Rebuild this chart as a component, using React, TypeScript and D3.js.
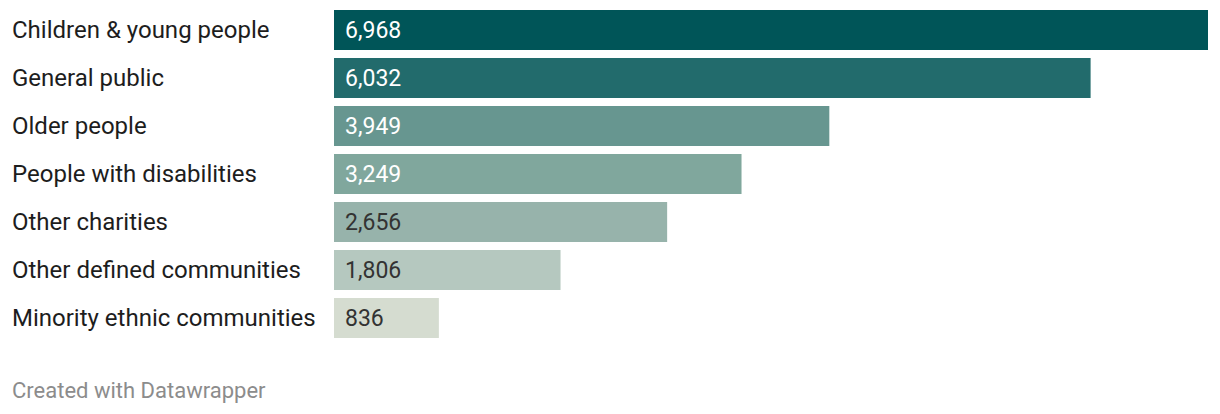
import React from "react";
import * as d3 from "d3";

const categories = [
  "Children & young people",
  "General public",
  "Older people",
  "People with disabilities",
  "Other charities",
  "Other defined communities",
  "Minority ethnic communities",
];
const values = [6968, 6032, 3949, 3249, 2656, 1806, 836];
const colors = ["#005558", "#226b6c", "#679690", "#80a79d", "#97b3ab", "#b5c8bf", "#d5dcd0"];
const labelColors = ["#ffffff", "#ffffff", "#ffffff", "#ffffff", "#333333", "#333333", "#333333"];

export default function App() {
  const W = 1220, H = 414;
  const x = d3.scaleLinear().domain([0, d3.max(values)!]).range([334, 1208]);
  const step = 48;
  const fmt = d3.format(",");
  return (
    <svg width={W} height={H} style={{ position: "absolute", left: 0, top: 0, fontFamily: "Roboto" }}>
      {categories.map((c, i) => {
        const top = 10 + i * step;
        return (
          <g key={c}>
            <text x={12} y={top + 20} dy="0.35em" fontSize={24} fill="#1d1d1d">{c}</text>
            <rect x={x(0)} y={top} width={x(values[i]) - x(0)} height={40} fill={colors[i]} />
            <text x={x(0) + 11} y={top + 20} dy="0.35em" fontSize={23} fill={labelColors[i]}>{fmt(values[i])}</text>
          </g>
        );
      })}
      <text x={12} y={390} dy="0.35em" fontSize={22} fill="#8c8c8c">Created with Datawrapper</text>
    </svg>
  );
}
